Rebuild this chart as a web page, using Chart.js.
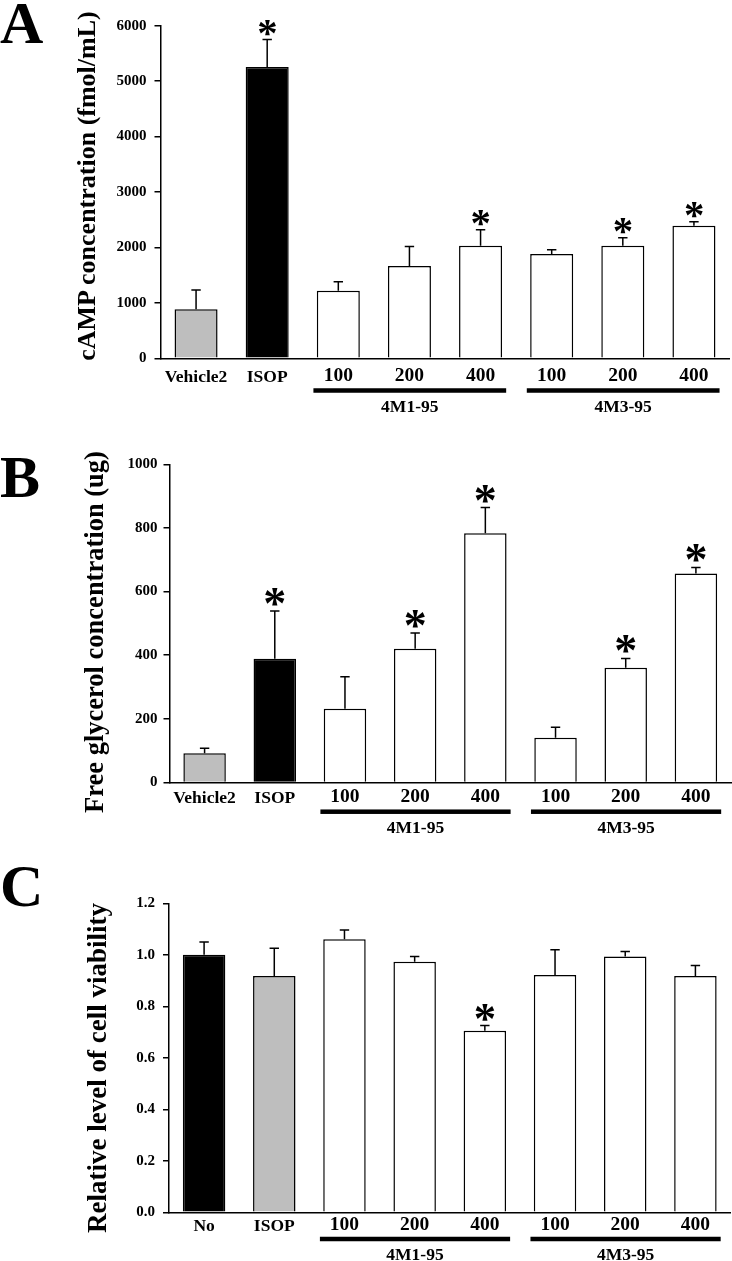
<!DOCTYPE html>
<html>
<head>
<meta charset="utf-8">
<script src="https://cdn.jsdelivr.net/npm/chart.js@4.4.1/dist/chart.umd.min.js"></script>
<style>
html,body{margin:0;padding:0;background:#fff;}
body{width:732px;height:1261px;position:relative;overflow:hidden;font-family:"Liberation Serif","Times New Roman",serif;color:#000;}
canvas{position:absolute;left:0;}
.letter{position:absolute;left:0;font-size:60px;line-height:60px;font-weight:bold;z-index:2;}
.ytitle{position:absolute;font-weight:bold;white-space:nowrap;transform:translate(-50%,-50%) rotate(-90deg);z-index:2;}
</style>
</head>
<body>
<div class="letter" style="top:-7px">A</div>
<div class="letter" style="top:447px">B</div>
<div class="letter" style="top:856px">C</div>
<div class="ytitle" style="left:86.5px;top:185.5px;font-size:26px;line-height:26px;">cAMP concentration (fmol/mL)</div>
<div class="ytitle" style="left:94px;top:632px;font-size:26.5px;line-height:26.5px;">Free glycerol concentration (ug)</div>
<div class="ytitle" style="left:97px;top:1068px;font-size:27px;line-height:27px;">Relative level of cell viability</div>
<canvas id="cA" width="732" height="420" style="top:0px"></canvas>
<canvas id="cB" width="732" height="420" style="top:420px"></canvas>
<canvas id="cC" width="732" height="421" style="top:840px"></canvas>
<script>
// ---------- DATA ----------
const categoriesAB = ['Vehicle2', 'ISOP', '100', '200', '400', '100', '200', '400'];
const categoriesC  = ['No', 'ISOP', '100', '200', '400', '100', '200', '400'];
const groupNames = ['4M1-95', '4M3-95'];
const groupRanges = [[2, 4], [5, 7]];

const campMean = [885, 5255, 1220, 1665, 2030, 1880, 2030, 2390];
const campErr  = [345, 495, 160, 350, 290, 80, 145, 75];
const campSig  = [false, true, false, false, true, false, true, true];
const campTicks = [0, 1000, 2000, 3000, 4000, 5000, 6000];
const campTickLabels = ['0', '1000', '2000', '3000', '4000', '5000', '6000'];

const glyMean = [92, 389, 232, 420, 783, 141, 361, 657];
const glyErr  = [16, 150, 100, 50, 81, 33, 29, 19];
const glySig  = [false, true, false, true, true, false, true, true];
const glyTicks = [0, 200, 400, 600, 800, 1000];
const glyTickLabels = ['0', '200', '400', '600', '800', '1000'];

const viaMean = [1.00, 0.918, 1.060, 0.973, 0.705, 0.922, 0.993, 0.918];
const viaErr  = [0.05, 0.107, 0.036, 0.02, 0.02, 0.098, 0.02, 0.04];
const viaSig  = [false, false, false, false, true, false, false, false];
const viaTicks = [0, 0.2, 0.4, 0.6, 0.8, 1.0, 1.2];
const viaTickLabels = ['0.0', '0.2', '0.4', '0.6', '0.8', '1.0', '1.2'];

// ---------- STYLE ----------
const FAMILY = '"Liberation Serif", "Times New Roman", serif';
const GRAY = '#bebebe';
const fillsAB = [GRAY, '#000', '#fff', '#fff', '#fff', '#fff', '#fff', '#fff'];
const fillsC  = ['#000', GRAY, '#fff', '#fff', '#fff', '#fff', '#fff', '#fff'];

Chart.defaults.font.family = FAMILY;
Chart.defaults.color = '#000';

const annotPlugin = {
  id: 'annot',
  afterDatasetsDraw(chart, args, o) {
    const ctx = chart.ctx;
    const meta = chart.getDatasetMeta(0);
    const ys = chart.scales.y;
    const data = chart.data.datasets[0].data;
    ctx.save();
    ctx.strokeStyle = '#000';
    ctx.lineWidth = 1.5;
    // asterisk size calibration
    ctx.font = 'bold 100px ' + FAMILY;
    const m100 = ctx.measureText('*');
    const h100 = m100.actualBoundingBoxAscent + m100.actualBoundingBoxDescent;
    const fs = 100 * o.starH / h100;
    meta.data.forEach((bar, i) => {
      const v = data[i];
      const yV = ys.getPixelForValue(v);
      const yT = ys.getPixelForValue(v + o.err[i]);
      ctx.beginPath();
      ctx.moveTo(bar.x, yV);
      ctx.lineTo(bar.x, yT);
      ctx.moveTo(bar.x - 4.7, yT);
      ctx.lineTo(bar.x + 4.7, yT);
      ctx.stroke();
      if (o.sig[i]) {
        ctx.font = 'bold ' + fs + 'px ' + FAMILY;
        ctx.fillStyle = '#000';
        ctx.textAlign = 'center';
        ctx.textBaseline = 'alphabetic';
        const mm = ctx.measureText('*');
        const base = yT - o.starGap - mm.actualBoundingBoxDescent;
        const dx = (mm.actualBoundingBoxLeft - mm.actualBoundingBoxRight) / 2;
        ctx.fillText('*', bar.x + dx, base);
      }
    });
    ctx.restore();
  },
  afterDraw(chart, args, o) {
    const ctx = chart.ctx;
    const xs = chart.scales.x;
    const bottom = chart.chartArea.bottom;
    const w = (chart.chartArea.right - chart.chartArea.left) / chart.data.labels.length;
    ctx.save();
    ctx.fillStyle = '#000';
    groupRanges.forEach((r, gi) => {
      const x1 = xs.getPixelForValue(r[0]) - 0.35 * w;
      const x2 = xs.getPixelForValue(r[1]) + 0.36 * w;
      const yc = bottom + o.lineOff;
      ctx.fillRect(x1, yc - 2.25, x2 - x1, 4.5);
      ctx.font = 'bold 17.5px ' + FAMILY;
      ctx.textAlign = 'center';
      ctx.textBaseline = 'alphabetic';
      ctx.fillText(groupNames[gi], (x1 + x2) / 2, bottom + o.labelOff);
    });
    ctx.restore();
  }
};

function makeChart(id, cfg) {
  const canvas = document.getElementById(id);
  const W = canvas.width, H = canvas.height;
  return new Chart(canvas, {
    type: 'bar',
    data: {
      labels: cfg.labels,
      datasets: [{
        data: cfg.values,
        backgroundColor: cfg.fills,
        borderColor: '#000',
        borderWidth: 1.5,
        borderSkipped: 'start',
        barPercentage: 0.605,
        categoryPercentage: 1.0
      }]
    },
    options: {
      responsive: false,
      animation: false,
      devicePixelRatio: 1,
      layout: { padding: { left: 0, top: cfg.top, right: W - cfg.right, bottom: 0 } },
      plugins: {
        legend: { display: false },
        tooltip: { enabled: false },
        annot: {
          err: cfg.err, sig: cfg.sig,
          starH: cfg.starH, starGap: cfg.starGap,
          lineOff: cfg.lineOff, labelOff: cfg.labelOff
        }
      },
      scales: {
        x: {
          type: 'category',
          offset: true,
          grid: { display: false, drawTicks: false },
          border: { display: true, color: '#000', width: 1.5 },
          ticks: {
            color: '#000',
            autoSkip: false,
            maxRotation: 0,
            padding: cfg.xPad,
            font: (c) => (c.index >= 2
              ? { family: FAMILY, size: 19.5, weight: 'bold', lineHeight: 0.94 }
              : { family: FAMILY, size: 17.5, weight: 'bold', lineHeight: 1.2 })
          },
          afterFit(s) { s.height = H - cfg.bottom; }
        },
        y: {
          min: cfg.ticks[0],
          max: cfg.ticks[cfg.ticks.length - 1],
          afterBuildTicks(s) { s.ticks = cfg.ticks.map(v => ({ value: v })); },
          ticks: {
            color: '#000',
            padding: cfg.yPad,
            font: { family: FAMILY, size: 15, weight: 'bold' },
            callback: (v, i) => cfg.tickLabels[i]
          },
          grid: { display: true, drawOnChartArea: false, drawTicks: true, tickLength: 6, color: '#000', lineWidth: 1.5 },
          border: { display: true, color: '#000', width: 1.5 },
          afterFit(s) { s.width = cfg.left; }
        }
      }
    },
    plugins: [annotPlugin]
  });
}

makeChart('cA', {
  labels: categoriesAB, values: campMean, err: campErr, sig: campSig, fills: fillsAB,
  ticks: campTicks, tickLabels: campTickLabels,
  left: 160.5, right: 729.5, top: 25.7, bottom: 358.3,
  xPad: 9, yPad: 8, starH: 15.5, starGap: 3.5, lineOff: 32.2, labelOff: 53.4
});
makeChart('cB', {
  labels: categoriesAB, values: glyMean, err: glyErr, sig: glySig, fills: fillsAB,
  ticks: glyTicks, tickLabels: glyTickLabels,
  left: 169.5, right: 731, top: 44.3, bottom: 362.5,
  xPad: 5.6, yPad: 6, starH: 17.5, starGap: 5, lineOff: 29.2, labelOff: 50.8
});
makeChart('cC', {
  labels: categoriesC, values: viaMean, err: viaErr, sig: viaSig, fills: fillsC,
  ticks: viaTicks, tickLabels: viaTickLabels,
  left: 169, right: 730.5, top: 63.3, bottom: 372.3,
  xPad: 3.5, yPad: 8, starH: 17, starGap: 4.5, lineOff: 26.7, labelOff: 47.7
});
</script>
</body>
</html>
